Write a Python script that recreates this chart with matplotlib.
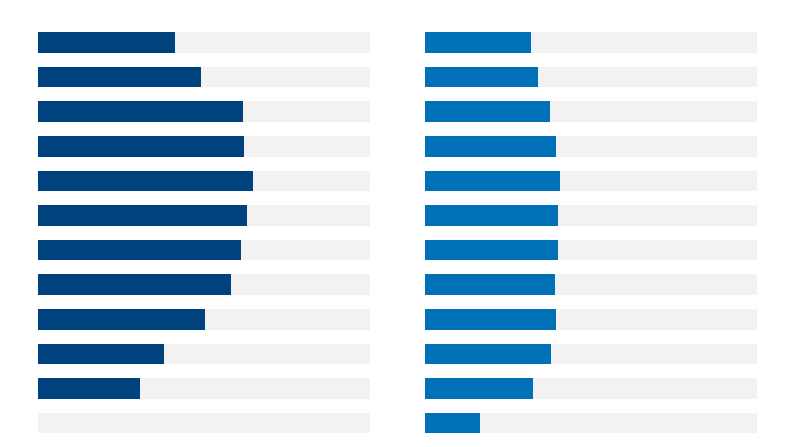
import matplotlib
matplotlib.use("Agg")
import matplotlib.pyplot as plt
import numpy as np

rows = list(range(12))
left_values = [41.3, 49.0, 61.8, 62.1, 64.8, 63.0, 61.2, 58.0, 50.3, 38.0, 30.8, 0.0]
right_values = [32.0, 34.1, 37.8, 39.4, 40.8, 40.1, 40.2, 39.1, 39.6, 37.9, 32.7, 16.7]
max_value = 100

left_color = "#00427e"
right_color = "#0071b6"
track_color = "#f2f2f2"

fig = plt.figure(figsize=(7.95, 4.47), dpi=100)
W, H = 795, 447
bar_h = 0.59
top_px, bot_px = 32.3, 433.3
ax_bottom = (H - bot_px) / H
ax_height = (bot_px - top_px) / H

for left_px, vals, col in [(38.3, left_values, left_color), (425.0, right_values, right_color)]:
    ax = fig.add_axes([left_px / W, ax_bottom, 331.7 / W, ax_height])
    ax.barh(rows, [max_value] * len(rows), height=bar_h, color=track_color, linewidth=0)
    ax.barh(rows, vals, height=bar_h, color=col, linewidth=0)
    ax.set_xlim(0, max_value)
    ax.set_ylim(len(rows) - 1 + bar_h / 2, -bar_h / 2)
    ax.axis("off")

fig.savefig("out.png", dpi=100)
